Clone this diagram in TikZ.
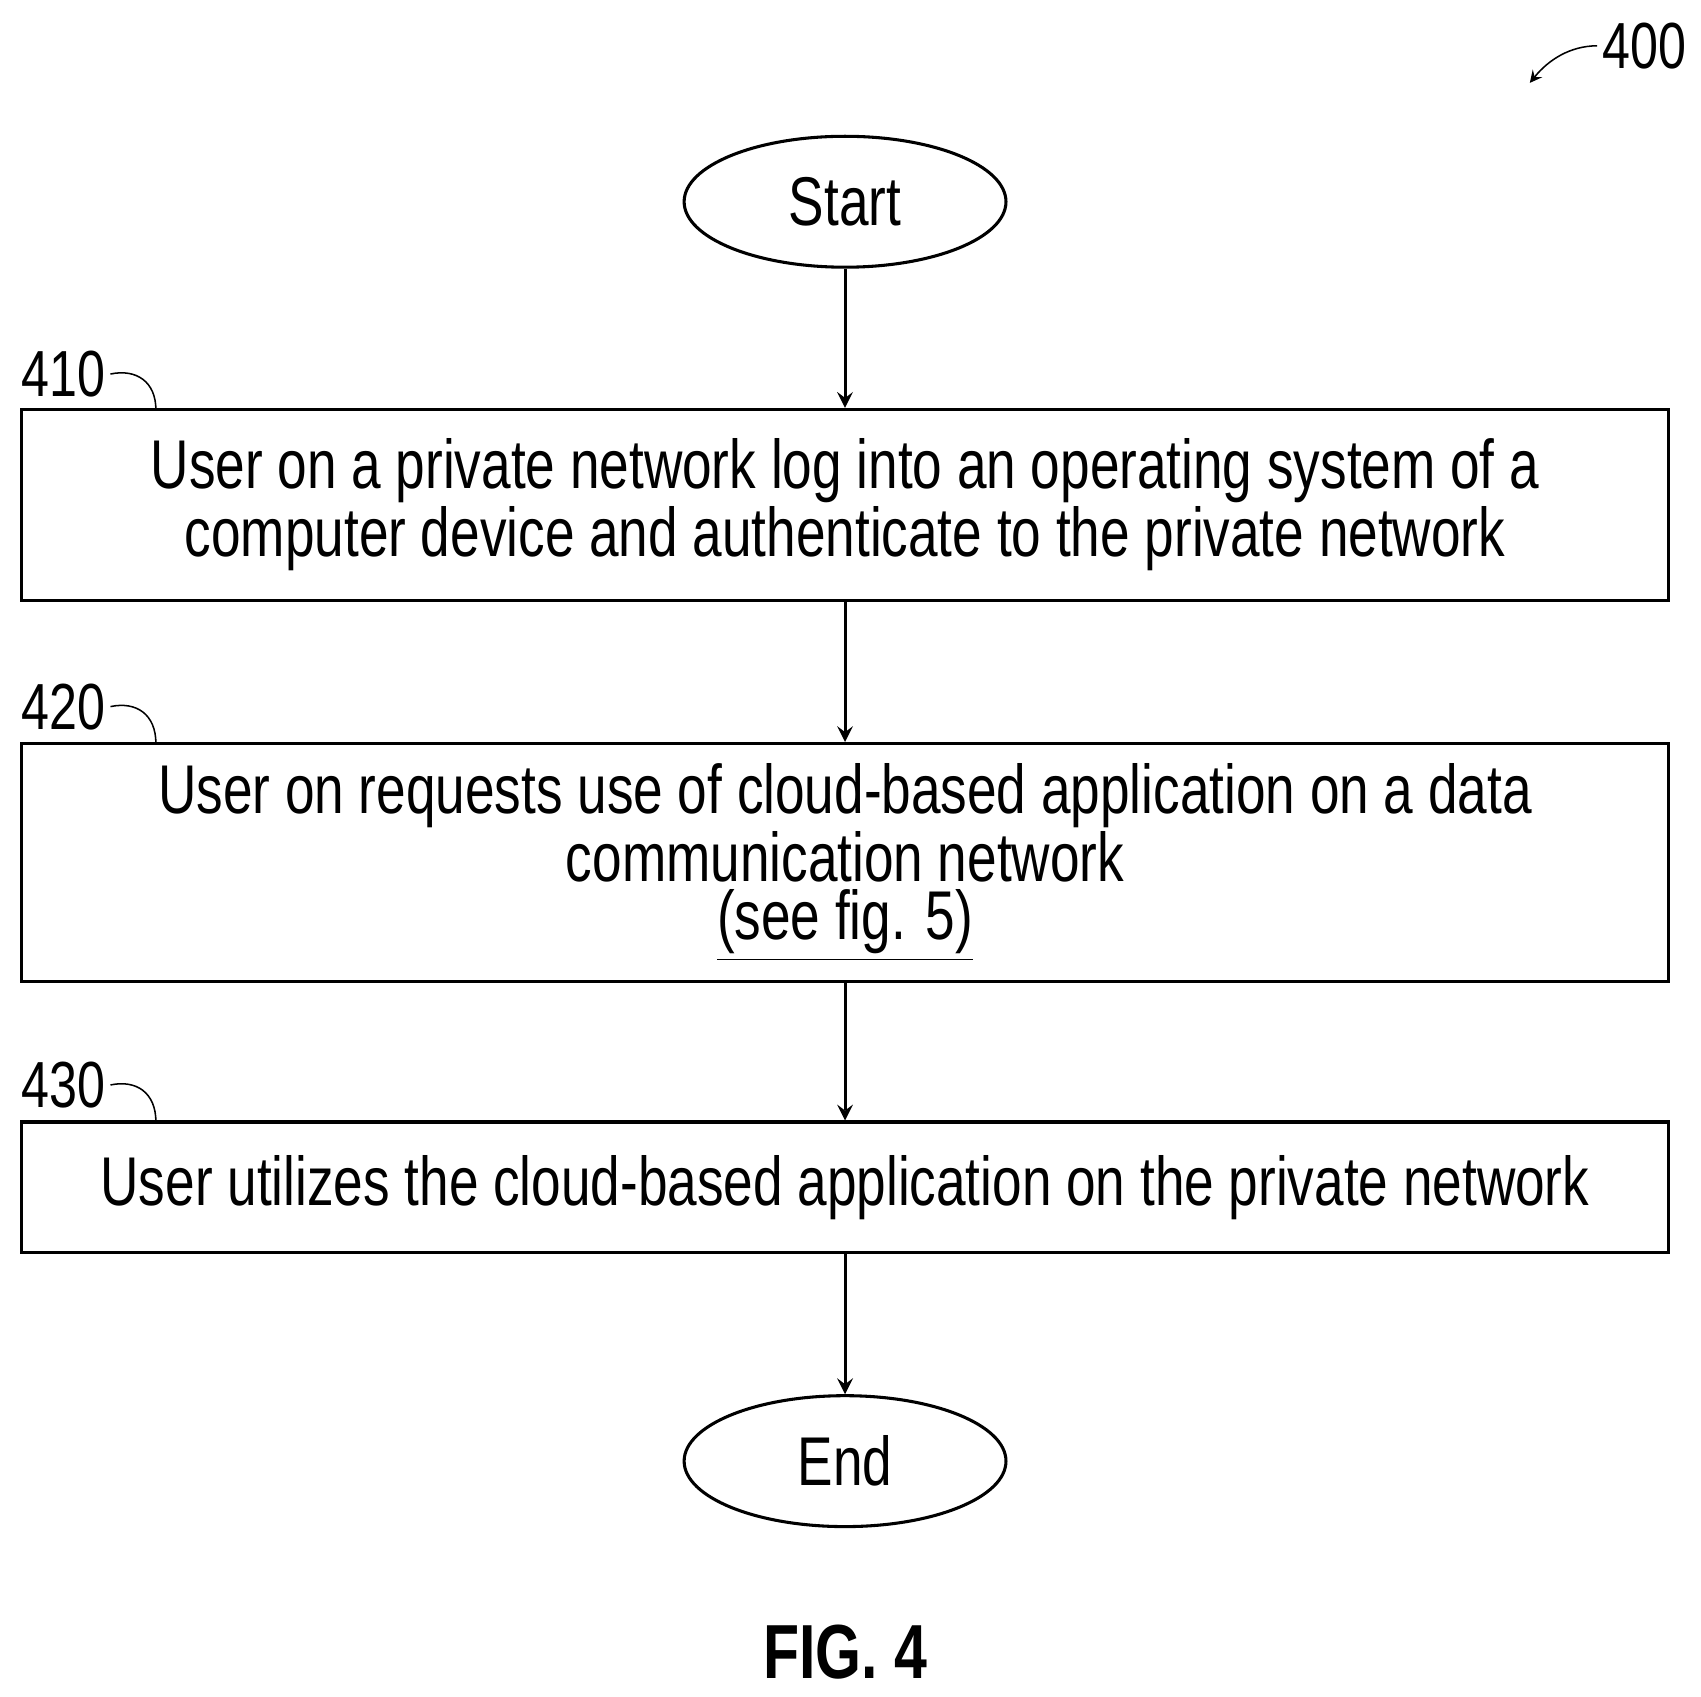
\documentclass[tikz,border=0pt]{standalone}
\usepackage{fontspec}
\setmainfont{Liberation Sans}[FakeStretch=0.77]
\usetikzlibrary{arrows,shapes.geometric}
\tikzset{block/.style={draw,thick,rectangle,minimum width=15.1cm,align=center,
                      font=\fontsize{18}{15.3}\selectfont}}
\tikzset{term/.style={draw,thick,ellipse,minimum width=2.95cm,minimum height=1.2cm,
                      font=\fontsize{18}{15.3}\selectfont}}
\tikzset{ref/.style={font=\fontsize{17}{17}\selectfont,inner sep=1pt}}
\begin{document}
\begin{tikzpicture}[x=0.01cm,y=-0.01cm,>=stealth,thick]
  \useasboundingbox (0,0) rectangle (1560,1556);
  % terminals and steps
  \node (start) [term] at (775,185) {Start};
  \node (s410) [block,minimum height=1.75cm] at (775,463)
    {User on a private network log into an operating system of a\\
     computer device and authenticate to the private network};
  \node (s420) [block,minimum height=2.18cm] at (775,791)
    {User on requests use of cloud-based application on a data\\
     communication network\\ \underline{(see fig. 5)}};
  \node (s430) [block,minimum height=1.2cm] at (775,1089)
    {User utilizes the cloud-based application on the private network};
  \node (end) [term] at (775,1340) {End};
  % reference numerals
  \node (l410) [ref] at (58,343) {410};
  \node (l420) [ref] at (58,648) {420};
  \node (l430) [ref] at (58,995) {430};
  \node (l400) [ref] at (1508,42) {400};
  \node (fig) [font=\fontsize{20}{20}\selectfont\bfseries] at (775,1515) {FIG. 4};
  \draw[thin] (l410.east) .. controls (125,338) and (143,350) .. (143,376);
  \draw[thin] (l420.east) .. controls (125,643) and (143,655) .. (143,682);
  \draw[thin] (l430.east) .. controls (125,990) and (143,1002) .. (143,1029);
  \draw[thin,->] (l400.west) .. controls (1440,42) and (1420,55) .. (1403,76);
  % flow
  \path[->]
    (start) edge (s410)
    (s410) edge (s420)
    (s420) edge (s430)
    (s430) edge (end);
\end{tikzpicture}
\end{document}
